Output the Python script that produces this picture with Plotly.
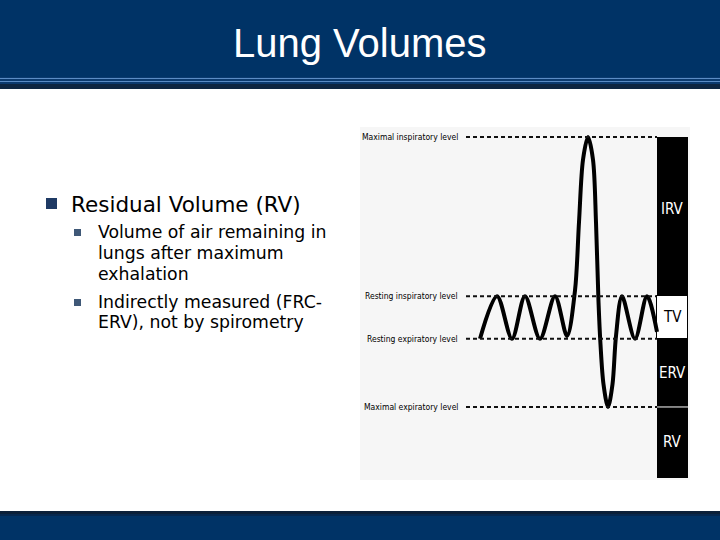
import plotly.graph_objects as go

W, H = 720, 540

# ---------------- data ----------------
title_text = "Lung Volumes"
main_bullet = "Residual Volume (RV)"
sub_bullets = [
    ["Volume of air remaining in", "lungs after maximum", "exhalation"],
    ["Indirectly measured (FRC-", "ERV), not by spirometry"],
]

level_labels = ["Maximal inspiratory level", "Resting inspiratory level",
                "Resting expiratory level", "Maximal expiratory level"]
level_values = [6.0, 3.2, 2.45, 1.25]          # litres

volume_names = ["RV", "ERV", "TV", "IRV"]
volume_sizes = [1.25, 1.2, 0.75, 2.8]          # litres
volume_fill = ["#000000", "#000000", "#ffffff", "#000000"]
volume_text_color = ["#ffffff", "#ffffff", "#000000", "#ffffff"]

# spirogram trace (time units, litres)
trace_t = [12.0, 13.7, 15.2, 16.5, 18.0, 19.5, 20.7, 21.5, 21.9, 22.3, 22.8,
           23.3, 23.6, 23.85, 24.05, 24.35, 24.8, 25.25, 25.6, 26.2, 27.5, 28.7, 29.7]
trace_v = [2.45, 3.2, 2.45, 3.2, 2.45, 3.2, 2.5, 3.3, 4.5, 5.6, 6.0,
           5.6, 4.5, 3.1, 2.35, 1.65, 1.25, 1.65, 2.5, 3.2, 2.45, 3.2, 2.57]

bar_center = 31.25
bar_width = 3.1


def px(x):
    return x / W


def py(y):
    return 1 - y / H


fig = go.Figure()

# volume bar (stacked)
for name, size, fill in zip(volume_names, volume_sizes, volume_fill):
    fig.add_trace(go.Bar(
        x=[bar_center], y=[size], width=bar_width, name=name,
        marker=dict(color=fill, line=dict(color="#000000", width=1 if fill == "#ffffff" else 0)),
        hoverinfo="skip", showlegend=False,
    ))

# spirogram
fig.add_trace(go.Scatter(
    x=trace_t, y=trace_v, mode="lines",
    line=dict(color="#000000", width=4, shape="spline", smoothing=0.9),
    hoverinfo="skip", showlegend=False,
))

shapes = []
annotations = []

# header
shapes += [
    dict(type="rect", xref="paper", yref="paper", x0=0, x1=1, y0=py(77), y1=1,
         fillcolor="#003366", line_width=0, layer="below"),
    dict(type="rect", xref="paper", yref="paper", x0=0, x1=1, y0=py(84), y1=py(77),
         fillcolor="#0b3a6e", line_width=0, layer="below"),
    dict(type="line", xref="paper", yref="paper", x0=0, x1=1, y0=py(78.5), y1=py(78.5),
         line=dict(color="#5b8cc4", width=1), layer="below"),
    dict(type="line", xref="paper", yref="paper", x0=0, x1=1, y0=py(81.5), y1=py(81.5),
         line=dict(color="#5b8cc4", width=1), layer="below"),
    dict(type="rect", xref="paper", yref="paper", x0=0, x1=1, y0=py(89), y1=py(84),
         fillcolor="#0d2540", line_width=0, layer="below"),
]
# footer
shapes += [
    dict(type="rect", xref="paper", yref="paper", x0=0, x1=1, y0=0, y1=py(511),
         fillcolor="#003366", line_width=0, layer="below"),
    dict(type="rect", xref="paper", yref="paper", x0=0, x1=1, y0=py(514), y1=py(511),
         fillcolor="#0b2039", line_width=0, layer="below"),
    dict(type="rect", xref="paper", yref="paper", x0=0, x1=1, y0=py(516), y1=py(514),
         fillcolor="#06284f", line_width=0, layer="below"),
]
# diagram background
shapes.append(dict(type="rect", xref="x domain", yref="y domain", x0=0, x1=1, y0=0, y1=1,
                   fillcolor="#f6f6f6", line_width=0, layer="below"))

# bullets
shapes.append(dict(type="rect", xref="paper", yref="paper", x0=px(46), x1=px(57),
                   y0=py(209), y1=py(198), fillcolor="#1f3a64", line_width=0))
sub_y = [[232, 253, 274], [302, 322]]
for ys in sub_y:
    shapes.append(dict(type="rect", xref="paper", yref="paper", x0=px(74), x1=px(81),
                       y0=py(ys[0] + 4), y1=py(ys[0] - 3), fillcolor="#3f5877", line_width=0))

annotations.append(dict(text=title_text, xref="paper", yref="paper", x=0.5, y=py(43),
                        xanchor="center", yanchor="middle", showarrow=False,
                        font=dict(family="Liberation Sans", size=40, color="#ffffff")))
annotations.append(dict(text=main_bullet, xref="paper", yref="paper", x=px(69), y=py(204),
                        xanchor="left", yanchor="middle", showarrow=False,
                        font=dict(family="DejaVu Sans", size=21.5, color="#000000")))
for lines, ys in zip(sub_bullets, sub_y):
    for line, yy in zip(lines, ys):
        annotations.append(dict(text=line, xref="paper", yref="paper", x=px(96), y=py(yy),
                                xanchor="left", yanchor="middle", showarrow=False,
                                font=dict(family="DejaVu Sans", size=17.3, color="#000000")))

# level lines and labels
for lab, val in zip(level_labels, level_values):
    shapes.append(dict(type="line", xref="x", yref="y", x0=10.6, x1=29.7, y0=val, y1=val,
                       line=dict(color="#111111", width=2, dash="4px,3px")))
    annotations.append(dict(text=lab, xref="x", yref="y", x=10.0, y=val,
                            xanchor="right", yanchor="middle", showarrow=False,
                            font=dict(family="DejaVu Sans Condensed", size=8.5, color="#000000")))

# bar labels
cum = 0
for name, size, tc in zip(volume_names, volume_sizes, volume_text_color):
    mid = cum + size / 2
    cum += size
    annotations.append(dict(text=name, xref="x", yref="y", x=bar_center, y=mid,
                            xanchor="center", yanchor="middle", showarrow=False,
                            yshift=8 if name == "IRV" else 0,
                            font=dict(family="DejaVu Sans Condensed", size=15, color=tc)))
# white divider between ERV and RV
shapes.append(dict(type="line", xref="x", yref="y", x0=bar_center - bar_width / 2,
                   x1=bar_center + bar_width / 2, y0=volume_sizes[0], y1=volume_sizes[0],
                   line=dict(color="#ffffff", width=1)))

fig.update_layout(
    width=W, height=H, margin=dict(l=0, r=0, t=0, b=0),
    paper_bgcolor="#ffffff", plot_bgcolor="rgba(0,0,0,0)",
    barmode="stack", bargap=0,
    xaxis=dict(domain=[px(360), px(690)], range=[0, 33], visible=False, fixedrange=True),
    yaxis=dict(domain=[py(480), py(127)], range=[-0.035, 6.176], visible=False, fixedrange=True),
    shapes=shapes, annotations=annotations, showlegend=False,
)

fig.write_html("out.html", config={"displayModeBar": False},
               post_script="document.body.style.margin='0';document.body.style.padding='0';")
